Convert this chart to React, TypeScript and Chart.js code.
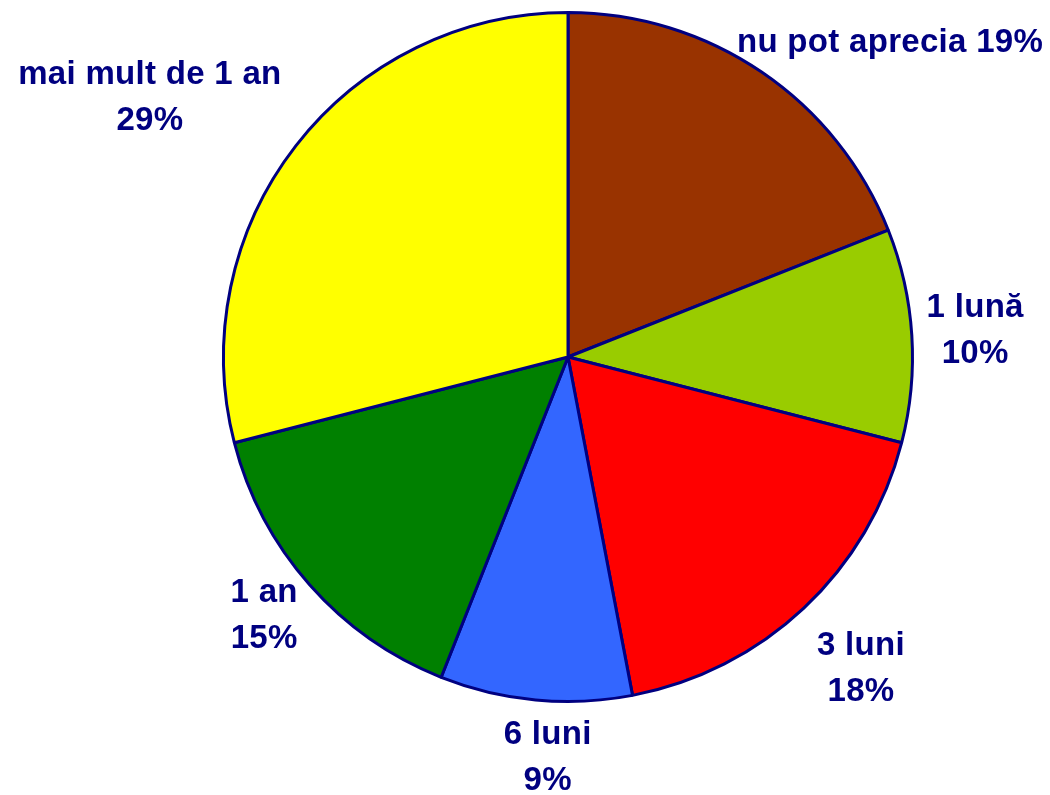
import React, { useEffect, useRef } from "react";
import { Chart, registerables } from "chart.js";

Chart.register(...registerables);

const categories = ["nu pot aprecia", "1 lună", "3 luni", "6 luni", "1 an", "mai mult de 1 an"];
const values = [19, 10, 18, 9, 15, 29];
const colors = ["#993300", "#99CC00", "#FF0000", "#3366FF", "#008000", "#FFFF00"];
// label placement: radius from center (px) and angle shift (deg), single line or two lines
const labelRadius = [450, 408, 428, 401, 399, 492];
const labelAngleShift = [11.5, 0, 0, -2.5, 1, -6];
const labelSingleLine = [true, false, false, false, false, false];

const labelPlugin = {
  id: "pieLabels",
  afterDatasetsDraw(chart: any) {
    const ctx = chart.ctx;
    const meta = chart.getDatasetMeta(0);
    ctx.save();
    ctx.fillStyle = "#000080";
    ctx.font = "bold 33px 'Liberation Sans', Arial, sans-serif";
    try { (ctx as any).letterSpacing = "0.3px"; } catch (e) {}
    ctx.textAlign = "center";
    ctx.textBaseline = "middle";
    meta.data.forEach((arc: any, i: number) => {
      const mid = (arc.startAngle + arc.endAngle) / 2 + (labelAngleShift[i] * Math.PI) / 180;
      const x = arc.x + Math.cos(mid) * labelRadius[i];
      const y = arc.y + Math.sin(mid) * labelRadius[i];
      const pct = values[i] + "%";
      if (labelSingleLine[i]) {
        ctx.fillText(categories[i] + " " + pct, x, y);
      } else {
        ctx.fillText(categories[i], x, y - 23);
        ctx.fillText(pct, x, y + 23);
      }
    });
    ctx.restore();
  },
};

export default function App() {
  const ref = useRef<HTMLCanvasElement>(null);
  useEffect(() => {
    document.body.style.margin = "0";
    const chart = new Chart(ref.current!, {
      type: "pie",
      data: {
        labels: categories,
        datasets: [
          {
            data: values,
            backgroundColor: colors,
            borderColor: "#000080",
            borderWidth: 3,
          },
        ],
      },
      options: {
        responsive: false,
        animation: false,
        layout: { padding: { left: 222, right: 136, top: 11, bottom: 92 } },
        plugins: { legend: { display: false }, tooltip: { enabled: false } },
      },
      plugins: [labelPlugin],
    });
    return () => chart.destroy();
  }, []);
  return (
    <div style={{ position: "absolute", left: 0, top: 0, width: 1050, height: 795, background: "#fff" }}>
      <canvas ref={ref} width={1050} height={795} />
    </div>
  );
}
